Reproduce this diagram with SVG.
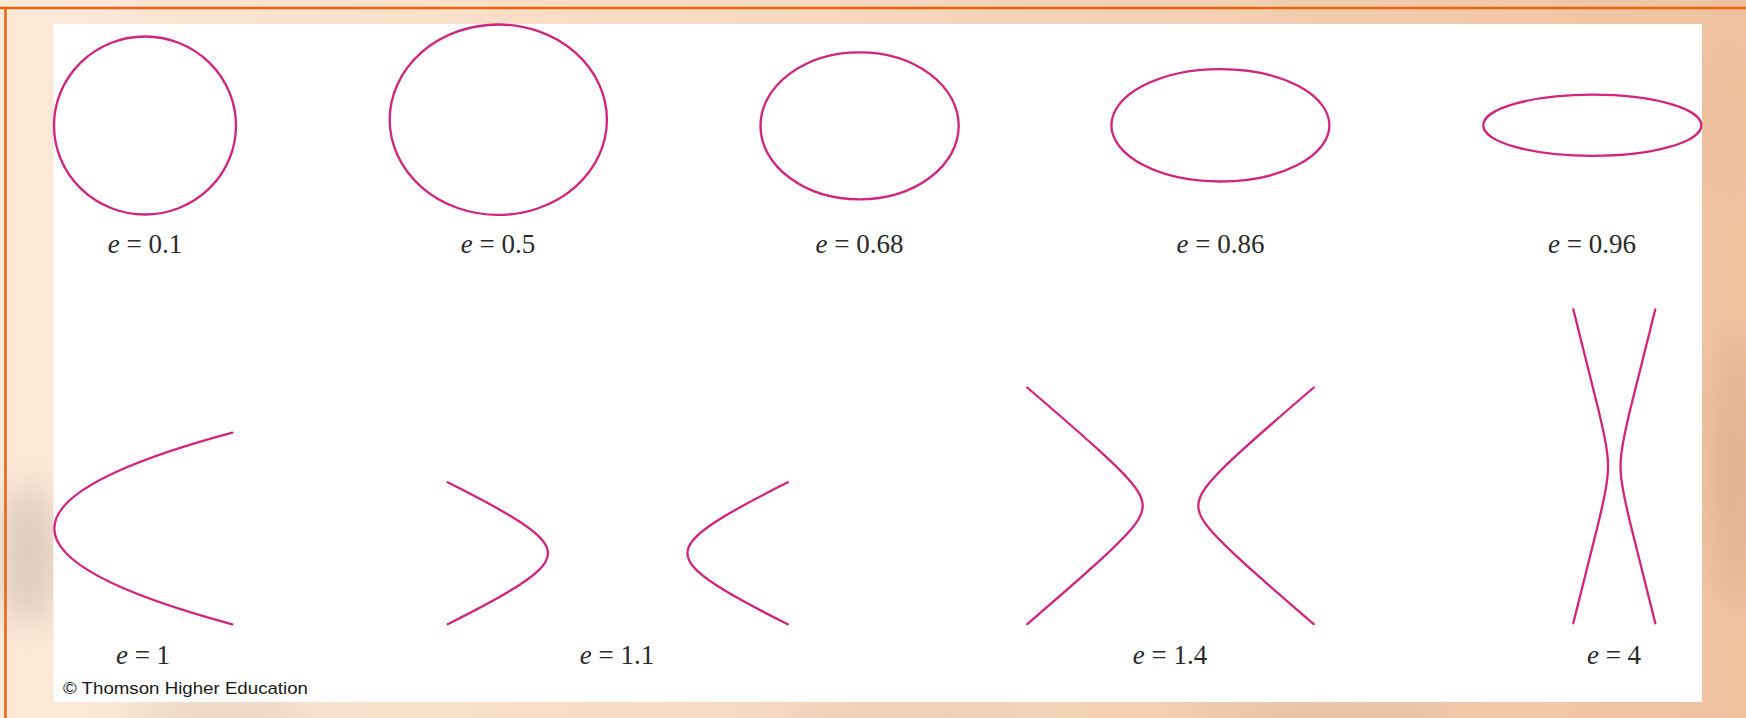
<svg xmlns="http://www.w3.org/2000/svg" width="1746" height="718" viewBox="0 0 1746 718">
  <defs>
    <linearGradient id="bg" x1="0" y1="0" x2="1" y2="0">
      <stop offset="0" stop-color="#fbe9d8"/>
      <stop offset="0.5" stop-color="#f6d7bd"/>
      <stop offset="1" stop-color="#f0c2a0"/>
    </linearGradient>
    <filter id="blur" x="-50%" y="-50%" width="200%" height="200%">
      <feGaussianBlur stdDeviation="16"/>
    </filter>
    <path id="h11" d="M170.05,-70.98 C142.13,-56.97 122.29,-46.35 107.55,-37.49 C93.90,-29.29 84.65,-22.62 78.60,-16.62 C72.55,-10.62 69.7,-5.32 69.7,0 C69.7,5.32 72.550,10.62 78.60,16.62 C84.65,22.62 93.90,29.29 107.55,37.49 C122.29,46.35 142.13,56.97 170.05,70.98"/>
    <path id="h14" d="M143.27,-118.30 C109.38,-89.23 87.57,-70.13 71.65,-55.59 C58.44,-43.53 49.43,-34.72 42.90,-27.50 C37.45,-21.48 33.77,-16.59 31.35,-12.19 C28.93,-7.79 27.8,-3.90 27.8,0 C27.8,3.90 28.93,7.79 31.35,12.19 C33.77,16.59 37.45,21.48 42.90,27.50 C49.43,34.72 58.44,43.53 71.65,55.59 C87.57,70.13 109.38,89.23 143.27,118.30"/>
    <path id="h4" d="M41.03,-157 C27.93,-105.69 20.91,-77.64 16.11,-57.49 C13.14,-45.01 11.11,-35.91 9.64,-28.44 C8.41,-22.22 7.59,-17.16 7.05,-12.61 C6.51,-8.06 6.25,-4.03 6.25,0 C6.25,4.03 6.51,8.06 7.05,12.61 C7.59,17.16 8.41,22.22 9.64,28.44 C11.11,35.91 13.14,45.01 16.11,57.49 C20.91,77.64 27.93,105.69 41.03,157"/>
  </defs>
  <style>
    .curve { fill: none; stroke: #d2237e; stroke-width: 2.3; stroke-linecap: round; }
    .lbl { font-family: "Liberation Serif", "Times New Roman", serif; font-size: 27px; fill: #2a2a2a; text-anchor: middle; }
    .lbl tspan.e { font-style: italic; }
    .copy { font-family: "Liberation Sans", Arial, sans-serif; font-size: 17px; fill: #1a1a1a; }
  </style>

  <!-- background -->
  <g id="background">
    <rect x="0" y="0" width="1746" height="718" fill="url(#bg)"/>
    <g filter="url(#blur)" opacity="0.4">
      <ellipse cx="28" cy="555" rx="30" ry="70" fill="#b9a294"/>
      <ellipse cx="220" cy="716" rx="90" ry="14" fill="#c8b2a4"/>
      <ellipse cx="900" cy="716" rx="120" ry="12" fill="#d9b9a2"/>
      <ellipse cx="1320" cy="716" rx="140" ry="12" fill="#c9a996"/>
      <ellipse cx="1735" cy="470" rx="18" ry="140" fill="#c98f72"/>
      <ellipse cx="1725" cy="120" rx="20" ry="80" fill="#eab394"/>
    </g>
    <line x1="0" y1="8" x2="1746" y2="8" stroke="#e7630f" stroke-width="2.5"/>
    <line x1="5.5" y1="8" x2="5.5" y2="718" stroke="#e7630f" stroke-width="2.5"/>
    <rect x="53.5" y="24" width="1648.5" height="678" fill="#ffffff"/>
  </g>

  <!-- ellipses -->
  <g id="e01"><ellipse class="curve" cx="145" cy="125.5" rx="91" ry="89"/><text class="lbl" x="145" y="253"><tspan class="e">e</tspan> = 0.1</text></g>
  <g id="e05"><ellipse class="curve" cx="498.3" cy="119.7" rx="108.6" ry="95.2"/><text class="lbl" x="498" y="253"><tspan class="e">e</tspan> = 0.5</text></g>
  <g id="e068"><ellipse class="curve" cx="859.6" cy="125.8" rx="99.1" ry="73.5"/><text class="lbl" x="859.5" y="253"><tspan class="e">e</tspan> = 0.68</text></g>
  <g id="e086"><ellipse class="curve" cx="1220.4" cy="125.3" rx="109" ry="56.2"/><text class="lbl" x="1220.5" y="253"><tspan class="e">e</tspan> = 0.86</text></g>
  <g id="e096"><ellipse class="curve" cx="1592.3" cy="125.3" rx="109" ry="30.6"/><text class="lbl" x="1592" y="253"><tspan class="e">e</tspan> = 0.96</text></g>

  <!-- parabola and hyperbolas -->
  <g id="e1"><path class="curve" d="M232.3,432.7 Q-123.7,528.5 232.3,624.3"/><text class="lbl" x="143" y="664"><tspan class="e">e</tspan> = 1</text></g>
  <g id="e11">
    <use href="#h11" class="curve" transform="translate(617.7,553.3)"/>
    <use href="#h11" class="curve" transform="translate(617.7,553.3) scale(-1,1)"/>
    <text class="lbl" x="617" y="664"><tspan class="e">e</tspan> = 1.1</text>
  </g>
  <g id="e14">
    <use href="#h14" class="curve" transform="translate(1170.5,505.8)"/>
    <use href="#h14" class="curve" transform="translate(1170.5,505.8) scale(-1,1)"/>
    <text class="lbl" x="1170" y="664"><tspan class="e">e</tspan> = 1.4</text>
  </g>
  <g id="e4">
    <use href="#h4" class="curve" transform="translate(1614.3,466.3)"/>
    <use href="#h4" class="curve" transform="translate(1614.3,466.3) scale(-1,1)"/>
    <text class="lbl" x="1614" y="664"><tspan class="e">e</tspan> = 4</text>
  </g>

  <g id="connectors"></g>

  <text id="copyright" class="copy" x="63" y="694" textLength="245" lengthAdjust="spacingAndGlyphs">© Thomson Higher Education</text>
</svg>
